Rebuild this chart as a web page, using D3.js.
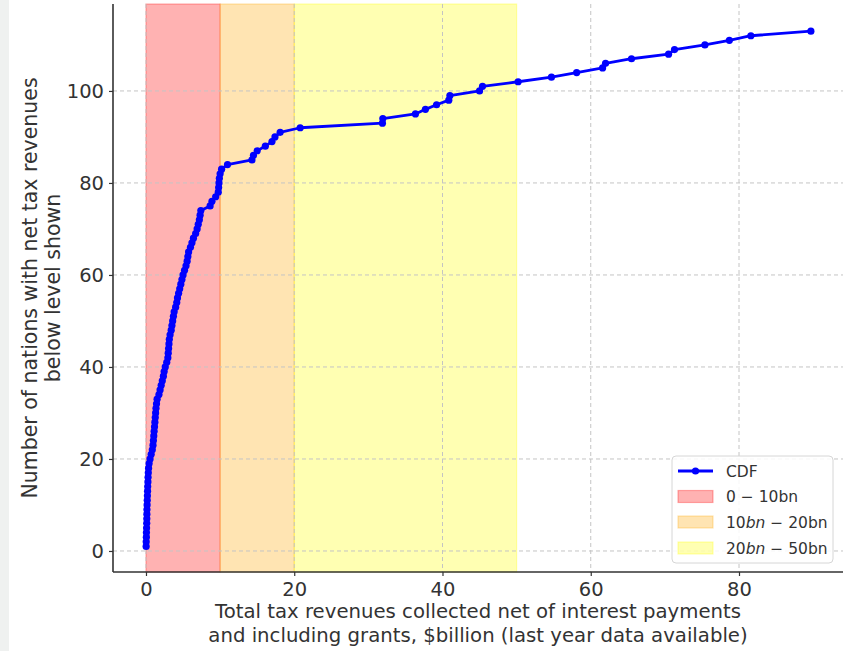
<!DOCTYPE html>
<html>
<head>
<meta charset="utf-8">
<script src="https://cdn.jsdelivr.net/npm/d3@7"></script>
<style>
  html, body { margin: 0; padding: 0; background: #fff; }
  svg { display: block; font-family: "DejaVu Sans", sans-serif; }
</style>
</head>
<body>
<svg id="chart" width="845" height="651"></svg>
<script>
// ---- data ----
const revenueBillion = [
  0.02,0.03,0.05,0.06,0.08,0.10,0.11,0.12,0.13,0.15,0.17,0.19,0.21,0.23,0.26,0.28,0.31,0.35,
  0.42,0.55,0.70,0.85,0.95,1.00,1.05,1.10,1.15,1.20,1.25,1.30,1.35,1.42,1.50,
  1.75,1.90,2.05,2.20,2.35,2.45,2.60,2.80,2.95,3.00,3.05,3.10,3.15,3.25,3.40,3.50,3.60,
  3.70,3.80,4.00,4.15,4.25,4.40,4.55,4.70,4.85,5.00,5.20,5.40,5.55,5.65,5.75,6.00,6.20,6.40,6.70,6.90,7.05,7.20,7.30,7.40,
  8.65,8.90,9.40,9.75,9.80,9.85,9.90,10.00,10.20,11.00,
  14.3,14.5,15.0,16.1,17.0,17.4,18.1,20.8,
  31.9,31.95,36.35,37.7,39.2,40.85,41.0,45.0,45.4,50.2,
  54.7,58.1,61.6,62.0,65.5,70.5,71.3,75.4,78.7,81.6,89.7
];
const nationCount = [
  1,2,3,4,5,6,7,8,9,10,11,12,13,14,15,16,17,18,19,20,
  21,22,23,24,25,26,27,28,29,30,31,32,33,34,35,36,37,38,39,40,
  41,42,43,44,45,46,47,48,49,50,51,52,53,54,55,56,57,58,59,60,
  61,62,63,64,65,66,67,68,69,70,71,72,73,74,75,76,77,78,79,80,
  81,82,83,84,85,86,87,88,89,90,91,92,93,94,95,96,97,98,99,100,
  101,102,103,104,105,106,107,108,109,110,111,112,113
];
const bandLabels = ["0 − 10bn", "10bn − 20bn", "20bn − 50bn"];
const bandStart = [0, 10, 20];
const bandEnd = [10, 20, 50];
const bandColors = ["255,0,0", "255,165,0", "255,255,0"];
const xTicks = [0, 20, 40, 60, 80];
const yTicks = [0, 20, 40, 60, 80, 100];
const seriesLabel = "CDF";
const xLabelLines = ["Total tax revenues collected net of interest payments",
                     "and including grants, $billion (last year data available)"];
const yLabelLines = ["Number of nations with net tax revenues", "below level shown"];

// ---- layout ----
const svg = d3.select("#chart");
const pLeft = 113, pRight = 843, pTop = 4, pBottom = 572;
const x = d3.scaleLinear().domain([-4.45, 94.03]).range([pLeft, pRight]);
const y = d3.scaleLinear().domain([-4.57, 118.9]).range([pBottom, pTop]);
const textColor = "#333";

// left grey strip of the page
svg.append("rect").attr("x", 0).attr("y", 0).attr("width", 9).attr("height", 651).attr("fill", "#eff1f0");

// bands
const bands = bandStart.map((s, i) => ({s, e: bandEnd[i], c: bandColors[i], label: bandLabels[i]}));
svg.append("g").selectAll("rect").data(bands).join("rect")
  .attr("x", d => x(d.s)).attr("width", d => x(d.e) - x(d.s))
  .attr("y", pTop).attr("height", pBottom - pTop)
  .attr("fill", d => `rgba(${d.c},0.3)`)
  .attr("stroke", d => `rgba(${d.c},0.3)`).attr("stroke-width", 1.2);

// grid
const grid = svg.append("g").attr("stroke", "#c4c4c4").attr("stroke-width", 1).attr("stroke-dasharray", "4,3");
grid.selectAll(".gx").data(xTicks).join("line").attr("class", "gx")
  .attr("x1", d => x(d)).attr("x2", d => x(d)).attr("y1", pTop).attr("y2", pBottom);
grid.selectAll(".gy").data(yTicks).join("line").attr("class", "gy")
  .attr("y1", d => y(d)).attr("y2", d => y(d)).attr("x1", pLeft).attr("x2", pRight);

// axes
const xAxis = svg.append("g").attr("transform", `translate(0,${pBottom})`)
  .call(d3.axisBottom(x).tickValues(xTicks).tickSize(4).tickPadding(6).tickSizeOuter(0));
const yAxis = svg.append("g").attr("transform", `translate(${pLeft},0)`)
  .call(d3.axisLeft(y).tickValues(yTicks).tickSize(4).tickPadding(5).tickSizeOuter(0));
[xAxis, yAxis].forEach(a => {
  a.select(".domain").attr("stroke", "#333").attr("stroke-width", 1.6);
  a.selectAll(".tick line").attr("stroke", "#333").attr("stroke-width", 1.2);
  a.selectAll(".tick text").attr("fill", textColor).style("font-size", "19.5px")
    .style("font-family", "DejaVu Sans");
});
xAxis.select(".domain").attr("d", `M${pLeft},0H${pRight}`);
yAxis.select(".domain").attr("d", `M0,${pTop}V${pBottom}`);

// CDF line + markers
const pts = revenueBillion.map((v, i) => ({v, n: nationCount[i]}));
svg.append("path").datum(pts)
  .attr("d", d3.line().x(d => x(d.v)).y(d => y(d.n)))
  .attr("fill", "none").attr("stroke", "#0000ff").attr("stroke-width", 2.8)
  .attr("stroke-linejoin", "round");
svg.append("g").selectAll("circle").data(pts).join("circle")
  .attr("cx", d => x(d.v)).attr("cy", d => y(d.n)).attr("r", 3.6).attr("fill", "#0000ff");

// axis labels
const xl = svg.append("text").attr("text-anchor", "middle").attr("fill", textColor)
  .style("font-size", "19.7px");
xLabelLines.forEach((t, i) => xl.append("tspan").attr("x", (pLeft + pRight) / 2).attr("y", 618 + i * 24).text(t));
const yc = (pTop + pBottom) / 2;
yLabelLines.forEach((t, i) => {
  svg.append("text").attr("text-anchor", "middle").attr("fill", textColor).style("font-size", "20.5px")
    .attr("transform", `translate(${37 + i * 23},${yc}) rotate(-90)`).text(t);
});

// legend
const lg = svg.append("g").attr("transform", "translate(672,456)");
lg.append("rect").attr("width", 161).attr("height", 107).attr("rx", 4)
  .attr("fill", "rgba(255,255,255,0.85)").attr("stroke", "#d6d6d6").attr("stroke-width", 1);
const rowY = [15, 40.5, 66, 92];
lg.append("line").attr("x1", 6).attr("x2", 41).attr("y1", rowY[0]).attr("y2", rowY[0])
  .attr("stroke", "#0000ff").attr("stroke-width", 2.8);
lg.append("circle").attr("cx", 23.5).attr("cy", rowY[0]).attr("r", 3.6).attr("fill", "#0000ff");
lg.append("text").attr("x", 54).attr("y", rowY[0] + 5.5).attr("fill", textColor).style("font-size", "15.5px").text(seriesLabel);
bands.forEach((b, i) => {
  const ry = rowY[i + 1];
  lg.append("rect").attr("x", 6).attr("y", ry - 6).attr("width", 35).attr("height", 12)
    .attr("fill", `rgba(${b.c},0.3)`).attr("stroke", `rgba(${b.c},0.3)`).attr("stroke-width", 1.2);
  const t = lg.append("text").attr("x", 54).attr("y", ry + 5.5).attr("fill", textColor).style("font-size", "15.5px");
  const m = b.label.match(/^(\d+)(bn)?( − .*)$/);
  t.append("tspan").text(m[1]);
  if (m[2]) t.append("tspan").style("font-style", "italic").text(m[2]);
  t.append("tspan").text(m[3]);
});
</script>
</body>
</html>
